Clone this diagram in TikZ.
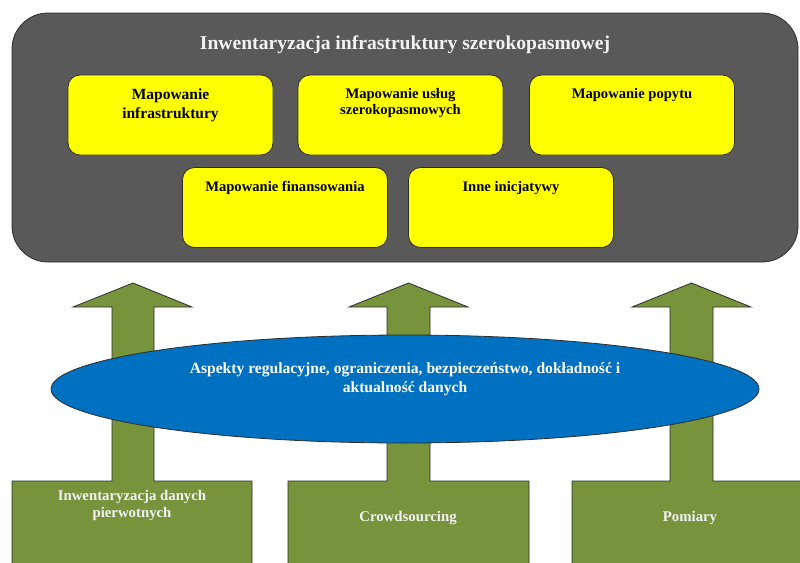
\documentclass[tikz,border=0pt]{standalone}
\usepackage{fontspec}
\setmainfont{Liberation Serif}
\usetikzlibrary{shapes.geometric}
\definecolor{panelgray}{HTML}{595959}
\definecolor{boxyellow}{HTML}{FFFF00}
\definecolor{olivegreen}{HTML}{77933C}
\definecolor{ellblue}{HTML}{0070C0}
\definecolor{edgecol}{HTML}{2E2E2E}
\definecolor{lighttext}{HTML}{F2F2F2}
\begin{document}
\begin{tikzpicture}[x=1pt,y=-1pt,
  panel/.style={fill=panelgray,draw=edgecol,line width=0.8pt,rounded corners=36pt},
  ybox/.style={draw=edgecol,fill=boxyellow,line width=0.8pt,rounded corners=12pt,minimum width=205pt,minimum height=80pt,inner sep=0pt},
  ytext/.style={font=\bfseries\fontsize{14.6}{16.5}\selectfont,align=center,inner sep=0pt,text=black},
  greenshape/.style={fill=olivegreen,draw=edgecol,line width=0.8pt},
  gtext/.style={font=\bfseries\fontsize{14.8}{17}\selectfont,align=center,inner sep=0pt,text=lighttext},
  blueell/.style={ellipse,fill=ellblue,draw=edgecol,line width=0.8pt,minimum width=708pt,minimum height=108pt,inner sep=0pt},
  etext/.style={font=\bfseries\fontsize{15.6}{19}\selectfont,align=center,inner sep=0pt,text=white},
  ttext/.style={font=\bfseries\fontsize{19.6}{22}\selectfont,inner sep=0pt,text=lighttext}
]
\clip (0,0) rectangle (800,562);
% top panel
\draw[panel] (12,13) rectangle (798,262);
\node[ttext] (title) at (405,45) {Inwentaryzacja infrastruktury szerokopasmowej};
% yellow boxes
\node[ybox] (b1) at (170.5,115) {};
\node[ybox] (b2) at (400.5,115) {};
\node[ybox] (b3) at (632,115) {};
\node[ybox] (b4) at (285,207.5) {};
\node[ybox] (b5) at (511,207.5) {};
\node[ytext,font=\bfseries\fontsize{15.5}{19}\selectfont] (t1) at (170.5,105) {Mapowanie\\infrastruktury};
\node[ytext] (t2) at (400.5,103) {Mapowanie usług\\szerokopasmowych};
\node[ytext] (t3) at (632,95.5) {Mapowanie popytu};
\node[ytext] (t4) at (285,188) {Mapowanie finansowania};
\node[ytext] (t5) at (511,188) {Inne inicjatywy};
% green boxes with arrows
\draw[greenshape] (12,570) -- (12,481) -- (112,481) -- (112,307) -- (73,307) -- (133,283) -- (192,307) -- (154,307) -- (154,481) -- (252,481) -- (252,570) -- cycle;
\draw[greenshape] (288,570) -- (288,481) -- (387,481) -- (387,307) -- (349,307) -- (408.5,283) -- (468,307) -- (430,307) -- (430,481) -- (529,481) -- (529,570) -- cycle;
\draw[greenshape] (572,570) -- (572,481) -- (670,481) -- (670,307) -- (632,307) -- (691.5,283) -- (751,307) -- (713,307) -- (713,481) -- (805,481) -- (805,570) -- cycle;
% ellipse
\node[blueell] (ell) at (405,389) {};
\node[etext] (et) at (405,379) {Aspekty regulacyjne, ograniczenia, bezpieczeństwo, dokładność i\\aktualność danych};
% bottom labels
\node[gtext] (g1) at (132,505.5) {Inwentaryzacja danych\\pierwotnych};
\node[gtext] (g2) at (408,518) {Crowdsourcing};
\node[gtext] (g3) at (690,518) {Pomiary};
\end{tikzpicture}
\end{document}
